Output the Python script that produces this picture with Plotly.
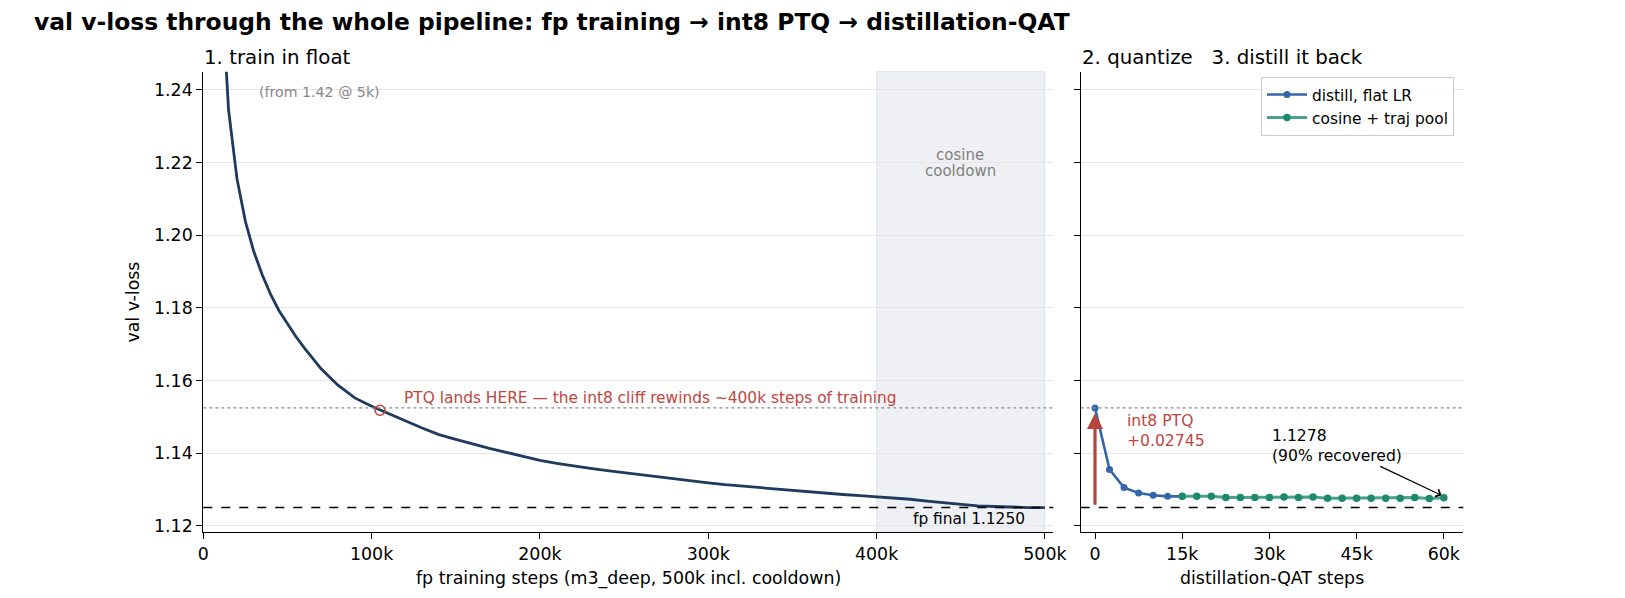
import plotly.graph_objects as go

# ---------------- data ----------------
fp_steps_k = [5, 10, 15, 20, 25, 30, 35, 40, 45, 50, 55, 60, 70, 80, 90, 100, 110, 120, 130, 140,
              150, 160, 170, 180, 190, 200, 210, 220, 230, 240, 250, 260, 270, 280, 290, 300,
              310, 320, 330, 340, 350, 360, 370, 380, 390, 400, 410, 420, 430, 440, 450, 460,
              470, 480, 490, 500]
fp_loss = [1.42, 1.275, 1.2345, 1.2156, 1.2038, 1.1955, 1.1891, 1.1837, 1.1792, 1.1756, 1.1721, 1.1690,
           1.1632, 1.1587, 1.1552, 1.1529, 1.1508, 1.1489, 1.1469, 1.1451, 1.1438, 1.1425,
           1.1413, 1.1402, 1.1390, 1.1380, 1.1372, 1.1364, 1.1358, 1.1352, 1.1346, 1.1340,
           1.1335, 1.1329, 1.1323, 1.1318, 1.1313, 1.1309, 1.1305, 1.1301, 1.1298, 1.1294,
           1.1290, 1.1286, 1.1283, 1.1280, 1.1277, 1.1273, 1.1268, 1.1263, 1.1258, 1.1255,
           1.1253, 1.1251, 1.1250, 1.1250]

fp_final = 1.1250
ptq_delta = 0.02745
ptq_loss = 1.15245
ptq_match_step_k = 105
ptq_match_loss = 1.1518

flat_steps_k = [0, 2.5, 5, 7.5, 10, 12.5, 15]
flat_loss = [1.15245, 1.1355, 1.1305, 1.1290, 1.1284, 1.1281, 1.1281]

cos_steps_k = [15, 17.5, 20, 22.5, 25, 27.5, 30, 32.5, 35, 37.5, 40, 42.5, 45, 47.5, 50, 52.5,
               55, 57.5, 60]
cos_loss = [1.1281, 1.1281, 1.1281, 1.1278, 1.1278, 1.1278, 1.1278, 1.1279, 1.1278, 1.1279,
            1.1276, 1.1276, 1.1276, 1.1276, 1.1276, 1.1276, 1.1278, 1.1275, 1.1277]
final_qat = 1.1278

left_ticks_k = [0, 100, 200, 300, 400, 500]
left_tick_text = ["0", "100k", "200k", "300k", "400k", "500k"]
right_ticks_k = [0, 15, 30, 45, 60]
right_tick_text = ["0", "15k", "30k", "45k", "60k"]
y_ticks = [1.12, 1.14, 1.16, 1.18, 1.20, 1.22, 1.24]
y_tick_text = ["1.12", "1.14", "1.16", "1.18", "1.20", "1.22", "1.24"]

# ---------------- style ----------------
PAGE_OFF = 8  # default body margin of the html page
W, H = 1625 - 2 * PAGE_OFF, 598 - 2 * PAGE_OFF
FONT = "DejaVu Sans"
NAVY = "#1f3a5f"
RED = "#c0453e"
ARROW_RED = "#b5443d"
BLUE = "#3465a8"
GREEN = "#1e8a6c"
GRAY = "#888888"


def px_x(p):
    return (p - PAGE_OFF) / W


def px_y(p):
    return 1 - (p - PAGE_OFF) / H


dom_y = [px_y(532.3), px_y(71.7)]
dom_x1 = [px_x(203.3), px_x(1053.3)]
dom_x2 = [px_x(1080.7), px_x(1463.3)]

fig = go.Figure()

fig.add_trace(go.Scatter(
    x=[s * 1000 for s in fp_steps_k], y=fp_loss, mode="lines",
    line=dict(color=NAVY, width=2.8), xaxis="x", yaxis="y", showlegend=False))
fig.add_trace(go.Scatter(
    x=[ptq_match_step_k * 1000], y=[ptq_match_loss], mode="markers",
    marker=dict(symbol="circle-open", size=10, color=RED, line=dict(width=1.6, color=RED)),
    xaxis="x", yaxis="y", showlegend=False))

fig.add_trace(go.Scatter(
    x=[s * 1000 for s in flat_steps_k], y=flat_loss, mode="lines+markers",
    name="distill, flat LR",
    line=dict(color=BLUE, width=2.6), marker=dict(color=BLUE, size=7),
    xaxis="x2", yaxis="y2"))
fig.add_trace(go.Scatter(
    x=[s * 1000 for s in cos_steps_k], y=cos_loss, mode="lines+markers",
    name="cosine + traj pool",
    line=dict(color="rgba(30,138,108,0.8)", width=3), marker=dict(color=GREEN, size=7.5),
    xaxis="x2", yaxis="y2"))

shapes = []
# cooldown shading
shapes.append(dict(type="rect", xref="x", yref="paper", x0=400000, x1=500000, y0=dom_y[0], y1=dom_y[1],
                   fillcolor="rgba(225,228,234,0.55)", line=dict(color="rgba(205,212,224,0.6)", width=1),
                   layer="below"))
for xr, dom in (("x", dom_x1), ("x2", dom_x2)):
    shapes.append(dict(type="line", xref="paper", yref="y", x0=dom[0], x1=dom[1], y0=ptq_loss, y1=ptq_loss,
                       line=dict(color="#8a8a8a", width=1.3, dash="dot"), layer="above"))
    shapes.append(dict(type="line", xref="paper", yref="y", x0=dom[0], x1=dom[1], y0=fp_final, y1=fp_final,
                       line=dict(color="black", width=1.5, dash="dash"), layer="above"))

annotations = []
annotations.append(dict(text="<b>val v-loss through the whole pipeline: fp training → int8 PTQ → distillation-QAT</b>",
                        xref="paper", yref="paper", x=px_x(32), y=px_y(22), xanchor="left", yanchor="middle",
                        showarrow=False, font=dict(family=FONT, size=23.4, color="black")))
annotations.append(dict(text="1. train in float", xref="paper", yref="paper", x=px_x(202), y=px_y(57.5),
                        xanchor="left", yanchor="middle", showarrow=False,
                        font=dict(family=FONT, size=19.8, color="black")))
annotations.append(dict(text="2. quantize\u00a0\u00a0 3. distill it back", xref="paper", yref="paper",
                        x=px_x(1079.5), y=px_y(57.5), xanchor="left", yanchor="middle", showarrow=False,
                        font=dict(family=FONT, size=19.8, color="black")))
annotations.append(dict(text="fp training steps (m3_deep, 500k incl. cooldown)", xref="paper", yref="paper",
                        x=px_x(628.3), y=px_y(578), xanchor="center", yanchor="middle", showarrow=False,
                        font=dict(family=FONT, size=17.4, color="black")))
annotations.append(dict(text="distillation-QAT steps", xref="paper", yref="paper",
                        x=px_x(1272), y=px_y(578), xanchor="center", yanchor="middle", showarrow=False,
                        font=dict(family=FONT, size=17.4, color="black")))
annotations.append(dict(text="val v-loss", xref="paper", yref="paper", textangle=-90,
                        x=px_x(132.6), y=px_y(302), xanchor="center", yanchor="middle", showarrow=False,
                        font=dict(family=FONT, size=17.4, color="black")))
annotations.append(dict(text="(from 1.42 @ 5k)", xref="x", yref="y", x=31900, y=1.2394,
                        xanchor="left", yanchor="middle", showarrow=False,
                        font=dict(family=FONT, size=14.2, color=GRAY)))
annotations.append(dict(text="PTQ lands HERE — the int8 cliff rewinds ~400k steps of training",
                        xref="x", yref="y", x=118200, y=1.1551, xanchor="left", yanchor="middle",
                        showarrow=False, font=dict(family=FONT, size=15.4, color=RED)))
annotations.append(dict(text="fp final %.4f" % fp_final, xref="x", yref="y", x=489200, y=1.1218,
                        xanchor="right", yanchor="middle", showarrow=False,
                        font=dict(family=FONT, size=15.4, color="black")))
annotations.append(dict(text="cosine", xref="x", yref="y", x=449600, y=1.2222,
                        xanchor="center", yanchor="middle", showarrow=False,
                        font=dict(family=FONT, size=15, color="#808080")))
annotations.append(dict(text="cooldown", xref="x", yref="y", x=449600, y=1.2176,
                        xanchor="center", yanchor="middle", showarrow=False,
                        font=dict(family=FONT, size=15, color="#808080")))
annotations.append(dict(text="int8 PTQ<br>+%.5f" % ptq_delta, xref="x2", yref="y", x=5200, y=1.1461,
                        xanchor="left", yanchor="middle", align="left", showarrow=False,
                        font=dict(family=FONT, size=15.6, color=RED)))
# red PTQ jump arrow
annotations.append(dict(text="", xref="x2", yref="y", x=0, y=ptq_loss, axref="x2", ayref="y",
                        ax=0, ay=1.1254, showarrow=True, arrowhead=2, arrowsize=1.0, arrowwidth=3.2,
                        arrowcolor=ARROW_RED, standoff=5))
# final value annotation
annotations.append(dict(text="%.4f<br>(90%% recovered)" % final_qat, xref="x2", yref="y",
                        x=59600, y=1.1284, axref="x2", ayref="y", ax=41600, ay=1.1420,
                        showarrow=True, arrowhead=4, arrowsize=1.3, arrowwidth=1.2, arrowcolor="black",
                        align="left", font=dict(family=FONT, size=15.6, color="black")))

axis_common = dict(showline=True, linecolor="black", linewidth=1.2, ticks="outside", ticklen=6,
                   tickwidth=1.2, tickcolor="black", zeroline=False, automargin=False,
                   tickfont=dict(family=FONT, size=17.4, color="black"))

fig.update_layout(
    width=W, height=H, margin=dict(l=0, r=0, t=0, b=0),
    paper_bgcolor="white", plot_bgcolor="white",
    font=dict(family=FONT, color="black"),
    xaxis=dict(domain=dom_x1, range=[0, 505000], tickvals=[t * 1000 for t in left_ticks_k],
               ticktext=left_tick_text, showgrid=False, anchor="y", **axis_common),
    yaxis=dict(domain=dom_y, range=[1.1182, 1.245], tickvals=y_ticks, ticktext=y_tick_text,
               showgrid=True, gridcolor="#e6e6e6", gridwidth=1, anchor="x", **axis_common),
    xaxis2=dict(domain=dom_x2, range=[-2460, 63350], tickvals=[t * 1000 for t in right_ticks_k],
                ticktext=right_tick_text, showgrid=False, anchor="y2", **axis_common),
    yaxis2=dict(domain=dom_y, matches="y", range=[1.1182, 1.245], tickvals=y_ticks, showticklabels=False,
                showgrid=True, gridcolor="#e6e6e6", gridwidth=1, anchor="x2", **axis_common),
    shapes=shapes, annotations=annotations,
    legend=dict(x=px_x(1454), y=px_y(77), xanchor="right", yanchor="top",
                bgcolor="rgba(255,255,255,0.85)", bordercolor="#cccccc", borderwidth=1,
                font=dict(family=FONT, size=15.4, color="black"), tracegroupgap=0,
                itemwidth=40),
)

fig.write_html("out.html")
